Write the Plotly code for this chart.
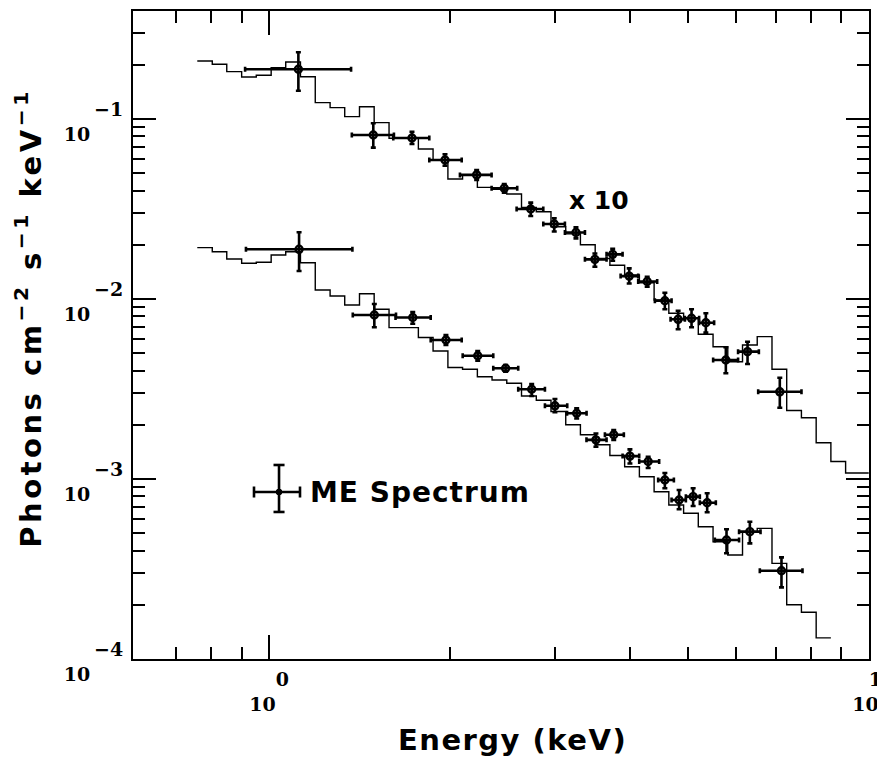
import plotly.graph_objects as go
import math

# ---------------- data ----------------
# model histogram bin edges (keV)
bin_edges = [0.759, 0.804, 0.850, 0.900, 0.952, 1.008, 1.066, 1.128, 1.194, 1.264,
             1.337, 1.415, 1.497, 1.585, 1.677, 1.774, 1.877, 1.987, 2.102, 2.225,
             2.354, 2.491, 2.636, 2.790, 2.952, 3.124, 3.305, 3.498, 3.701, 3.917,
             4.145, 4.386, 4.641, 4.912, 5.197, 5.500, 5.820, 6.159, 6.517, 6.897,
             7.298, 7.722, 8.172, 8.647, 9.150, 10.0]

# upper (x10) model, photons cm-2 s-1 keV-1
upper_model = [0.2101, 0.2013, 0.1832, 0.1712, 0.1749, 0.1928, 0.2074, 0.1718, 0.1232, 0.1156,
               0.1030, 0.1170, 0.0954, 0.0781, 0.0781, 0.0681, 0.0592, 0.0464, 0.0489, 0.0417,
               0.0407, 0.0383, 0.0323, 0.0305, 0.0252, 0.0230, 0.0200, 0.0168, 0.0154, 0.0136,
               0.0123, 0.00987, 0.00833, 0.00781, 0.00637, 0.00543, 0.00448, 0.00555, 0.00618, 0.00407,
               0.00240, 0.00219, 0.00159, 0.00125, 0.00108]

# lower model
lower_model = [0.01928, 0.01831, 0.01668, 0.01579, 0.01599, 0.01756, 0.01831, 0.01591, 0.01122, 0.01039,
               0.00926, 0.01070, 0.00877, 0.00693, 0.00693, 0.00611, 0.00514, 0.00416, 0.00407, 0.00370,
               0.00355, 0.00340, 0.00289, 0.00274, 0.00237, 0.00200, 0.00176, 0.00155, 0.00135, 0.00117,
               0.00103, 0.000850, 0.000717, 0.000645, 0.000543, 0.000448, 0.000378, 0.000510, 0.000532, 0.000340,
               0.000200, 0.000182, 0.000131]

# upper (x10) ME data points
up_e = [1.119, 1.492, 1.731, 1.965, 2.219, 2.467, 2.731, 2.989, 3.249, 3.494,
        3.741, 3.986, 4.271, 4.571, 4.810, 5.064, 5.350, 5.777, 6.279, 7.107]
up_e_lo = [0.912, 1.374, 1.611, 1.850, 2.081, 2.350, 2.587, 2.866, 3.114, 3.363,
           3.654, 3.857, 4.126, 4.399, 4.672, 4.936, 5.214, 5.502, 6.055, 6.541]
up_e_hi = [1.370, 1.615, 1.850, 2.095, 2.350, 2.593, 2.866, 3.114, 3.363, 3.654,
           3.886, 4.126, 4.438, 4.690, 4.936, 5.214, 5.523, 6.055, 6.558, 7.724]
up_f = [0.1888, 0.0815, 0.0784, 0.0592, 0.0489, 0.0412, 0.0316, 0.0261, 0.0234, 0.0166,
        0.0177, 0.0134, 0.0125, 0.00978, 0.00771, 0.00781, 0.00738, 0.00458, 0.00510, 0.00305]
up_f_lo = [0.1436, 0.0693, 0.0726, 0.0550, 0.0458, 0.0390, 0.0289, 0.0237, 0.0217, 0.0151,
           0.0163, 0.0122, 0.0117, 0.00877, 0.00679, 0.00696, 0.00650, 0.00387, 0.00435, 0.00249]
up_f_hi = [0.2347, 0.0946, 0.0850, 0.0637, 0.0521, 0.0435, 0.0343, 0.0281, 0.0250, 0.0179,
           0.0190, 0.0148, 0.0133, 0.01084, 0.00861, 0.00877, 0.00833, 0.00539, 0.00579, 0.00365]

# lower ME data points
lo_e = [1.122, 1.498, 1.736, 1.972, 2.228, 2.480, 2.741, 2.997, 3.258, 3.508,
        3.756, 3.997, 4.287, 4.571, 4.828, 5.095, 5.377, 5.792, 6.335, 7.153]
lo_e_lo = [0.915, 1.379, 1.625, 1.860, 2.103, 2.365, 2.603, 2.884, 3.140, 3.383,
           3.631, 3.886, 4.142, 4.455, 4.690, 4.955, 5.228, 5.538, 6.078, 6.582]
lo_e_hi = [1.377, 1.628, 1.860, 2.095, 2.365, 2.603, 2.884, 3.142, 3.384, 3.654,
           3.905, 4.142, 4.472, 4.732, 4.955, 5.228, 5.559, 6.078, 6.600, 7.754]
lo_f = [0.01888, 0.00815, 0.00789, 0.00592, 0.00484, 0.00412, 0.00315, 0.00255, 0.00232, 0.00165,
        0.00176, 0.00134, 0.00125, 0.000987, 0.000764, 0.000798, 0.000738, 0.000458, 0.000510, 0.000309]
lo_f_lo = [0.01431, 0.00696, 0.00729, 0.00555, 0.00454, 0.00395, 0.00289, 0.00235, 0.00217, 0.00151,
           0.00165, 0.00122, 0.00115, 0.000888, 0.000679, 0.000708, 0.000653, 0.000387, 0.000439, 0.000250]
lo_f_hi = [0.02348, 0.00938, 0.00847, 0.00631, 0.00514, 0.00430, 0.00337, 0.00278, 0.00247, 0.00179,
           0.00187, 0.00146, 0.00133, 0.00108, 0.000869, 0.000888, 0.000833, 0.000526, 0.000579, 0.000367]

# axes ticks (decade labels: base "10" with its exponent set above it)
x_major = [1, 10]
x_major_base = ["10", "10"]
x_major_exp = ["0", "1"]
x_minor = [0.7, 0.8, 0.9, 2, 3, 4, 5, 6, 7, 8, 9]
y_major = [1e-4, 1e-3, 1e-2, 1e-1]
y_major_base = ["10", "10", "10", "10"]
y_major_exp = ["−4", "−3", "−2", "−1"]
y_minor = [m * d for d in (1e-4, 1e-3, 1e-2) for m in range(2, 10)] + [0.2, 0.3]

x_range_kev = [0.593, 10.01]
y_range = [1e-4, 0.398]

x_title = "Energy (keV)"
y_title = "Photons cm<sup>−2</sup> s<sup>−1</sup> keV<sup>−1</sup>"
legend_text = "ME Spectrum"
scale_text = "x 10"

# ---------------- figure ----------------
SERIF = "DejaVu Serif"
SANS = "DejaVu Sans"
NB = "\u00a0"


def x_power_label(base, exp, at_right_edge=False):
    # exponent raised well above and to the right of the base, as in the print
    if at_right_edge:  # keep the last label inside the page
        return "<b>" + NB * 2 + exp + "<br>" + base + NB + "</b>"
    return "<b>" + NB * 4 + exp + "<br>" + base + NB * 2 + "</b>"


def y_power_label(base, exp):
    return "<b>" + exp + "<br>" + base + NB * 5 + "</b>"


def spaced(text, px):
    return "<span style='letter-spacing:%spx'>%s</span>" % (px, text)


fig = go.Figure()


def step_trace(edges, vals):
    n = len(vals)
    return go.Scatter(x=edges[:n + 1], y=list(vals) + [vals[-1]], mode="lines",
                      line=dict(color="black", width=1.4, shape="hv"),
                      hoverinfo="skip", showlegend=False)


def data_trace(e, elo, ehi, f, flo, fhi):
    return go.Scatter(
        x=e, y=f, mode="markers", showlegend=False,
        marker=dict(symbol="circle-open", size=7, color="black", line=dict(width=2.4, color="black")),
        error_x=dict(type="data", symmetric=False,
                     array=[h - c for h, c in zip(ehi, e)],
                     arrayminus=[c - l for c, l in zip(e, elo)],
                     color="black", thickness=2.6, width=2.5),
        error_y=dict(type="data", symmetric=False,
                     array=[h - c for h, c in zip(fhi, f)],
                     arrayminus=[c - l for c, l in zip(f, flo)],
                     color="black", thickness=2.6, width=2.5),
    )


fig.add_trace(step_trace(bin_edges, upper_model))
fig.add_trace(step_trace(bin_edges, lower_model))
fig.add_trace(data_trace(up_e, up_e_lo, up_e_hi, up_f, up_f_lo, up_f_hi))
fig.add_trace(data_trace(lo_e, lo_e_lo, lo_e_hi, lo_f, lo_f_lo, lo_f_hi))

tickfont = dict(family=SERIF, size=19, color="black")

x_ticktext = [x_power_label(b, e, at_right_edge=(v == x_major[-1]))
              for v, b, e in zip(x_major, x_major_base, x_major_exp)]

fig.update_xaxes(
    type="log", range=[math.log10(x_range_kev[0]), math.log10(x_range_kev[1])],
    automargin=False,
    showline=True, linewidth=2, linecolor="black", mirror="ticks",
    showgrid=False, zeroline=False,
    ticks="inside", ticklen=24, tickwidth=1.6, tickcolor="black",
    tickmode="array", tickvals=x_major, ticktext=x_ticktext,
    tickfont=tickfont, ticklabelstandoff=2, ticklabeloverflow="allow",
    minor=dict(tickmode="array", tickvals=x_minor, ticks="inside", ticklen=12,
               tickwidth=1.6, tickcolor="black", showgrid=False),
    title=dict(text="<b>" + spaced(NB * 2 + x_title, 1.5) + "</b>",
               font=dict(family=SANS, size=29, color="black"), standoff=28),
)
fig.update_yaxes(
    type="log", range=[math.log10(y_range[0]), math.log10(y_range[1])],
    automargin=False,
    showline=True, linewidth=2, linecolor="black", mirror="ticks",
    showgrid=False, zeroline=False,
    ticks="inside", ticklen=23, tickwidth=1.6, tickcolor="black",
    tickmode="array", tickvals=y_major,
    ticktext=[y_power_label(b, e) for b, e in zip(y_major_base, y_major_exp)],
    tickfont=tickfont, ticklabelstandoff=4, ticklabelshift=3, ticklabeloverflow="allow",
    minor=dict(tickmode="array", tickvals=y_minor, ticks="inside", ticklen=12,
               tickwidth=1.6, tickcolor="black", showgrid=False),
)

# legend key (cross with caps) drawn in paper coordinates
kx, ky = 0.1984, 0.2577
hx0, hx1 = 0.1644, 0.2269
vy0, vy1 = 0.2269, 0.2994
cap_h, cap_w = 0.0085, 0.0075
line = dict(color="black", width=2.6)
shapes = [
    dict(type="line", xref="paper", yref="paper", x0=hx0, x1=hx1, y0=ky, y1=ky, line=line),
    dict(type="line", xref="paper", yref="paper", x0=kx, x1=kx, y0=vy0, y1=vy1, line=line),
    dict(type="line", xref="paper", yref="paper", x0=hx0, x1=hx0, y0=ky - cap_h, y1=ky + cap_h, line=line),
    dict(type="line", xref="paper", yref="paper", x0=hx1, x1=hx1, y0=ky - cap_h, y1=ky + cap_h, line=line),
    dict(type="line", xref="paper", yref="paper", x0=kx - cap_w, x1=kx + cap_w, y0=vy0, y1=vy0, line=line),
    dict(type="line", xref="paper", yref="paper", x0=kx - cap_w, x1=kx + cap_w, y0=vy1, y1=vy1, line=line),
    dict(type="circle", xref="paper", yref="paper", x0=kx - 0.004, x1=kx + 0.004,
         y0=ky - 0.0045, y1=ky + 0.0045, fillcolor="black", line=dict(color="black", width=1)),
]

annotations = [
    # y-axis title, placed where the print has it
    dict(text="<b>" + spaced(y_title, 3.5) + "</b>", xref="paper", yref="paper",
         x=-0.1420, y=0.526, xanchor="center", yanchor="middle", textangle=-90,
         showarrow=False, font=dict(family=SANS, size=29, color="black")),
    dict(text="<b>" + spaced(legend_text, 1) + "</b>", xref="paper", yref="paper", x=0.2378, y=0.2577,
         xanchor="left", yanchor="middle", showarrow=False,
         font=dict(family=SANS, size=28, color="black")),
    dict(text="<b>" + scale_text + "</b>", xref="paper", yref="paper", x=0.5897, y=0.7083,
         xanchor="left", yanchor="middle", showarrow=False,
         font=dict(family=SANS, size=25, color="black")),
]

# the page body adds an 8 px offset, so the figure is 8 px smaller than the window
fig.update_layout(
    width=877, height=749,
    margin=dict(l=125, r=16, t=3, b=98, autoexpand=False),
    paper_bgcolor="white", plot_bgcolor="white",
    shapes=shapes, annotations=annotations,
    showlegend=False,
)

fig.write_html("out.html")
